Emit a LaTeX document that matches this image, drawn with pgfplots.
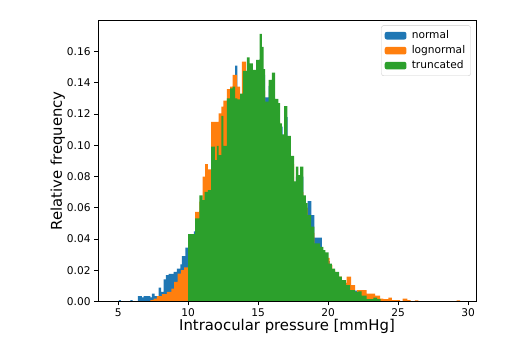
\documentclass[border=0pt]{standalone}
\usepackage{fontspec}
\setmainfont{DejaVu Sans}
\usepackage{pgfplots}
\pgfplotsset{compat=1.18}
\definecolor{tabblue}{HTML}{1F77B4}
\definecolor{taborange}{HTML}{FF7F0E}
\definecolor{tabgreen}{HTML}{2CA02C}
\definecolor{legframe}{HTML}{CCCCCC}

\begin{document}
\begin{tikzpicture}
\begin{axis}[
  width=356pt, height=265pt, scale only axis,
  xmin=3.55, xmax=30.57, ymin=0, ymax=0.18,
  xtick={5,10,15,20,25,30},
  ytick={0,0.02,0.04,0.06,0.08,0.1,0.12,0.14,0.16},
  scaled y ticks=false,
  yticklabel style={/pgf/number format/fixed, /pgf/number format/fixed zerofill,
                    /pgf/number format/precision=2},
  /pgf/number format/assume math mode=true,
  tick pos=left, tick align=outside, major tick length=3.5pt,
  tick style={black, line width=0.8pt},
  axis line style={line width=0.8pt},
  tick label style={font=\fontsize{10}{12}\selectfont},
  xlabel={Intraocular pressure [mmHg]}, ylabel={Relative frequency},
  label style={font=\fontsize{14}{17}\selectfont},
  xlabel style={at={(axis description cs:0.5,-0.062)}, anchor=north, inner sep=0pt},
  ylabel style={at={(axis description cs:-0.087,0.5)}, anchor=south, inner sep=0pt},
  axis on top,
  legend style={at={(0.986,0.982)}, anchor=north east, draw=legframe, rounded corners=2pt,
                fill=white, fill opacity=0.8, draw opacity=1, text opacity=1,
                font=\fontsize{10}{12}\selectfont, row sep=1pt, inner sep=3pt,
                /tikz/every odd column/.append style={column sep=3pt}},
  legend cell align=left,
  legend image code/.code={\fill[#1, fill opacity=1] (0pt,-3.6pt) rectangle (20.5pt,3.6pt);},
]
% normal
\addplot[const plot, fill=tabblue, draw=none] coordinates {
  (5.05,0.001) (5.19,0) (5.86,0.001) (6.02,0) (6.4,0.0036) (6.69,0.0027) (6.81,0.0036)
  (7.29,0.0027) (7.4,0.0052) (7.6,0.0036) (7.88,0.009) (8.07,0.0063) (8.24,0.0142)
  (8.4,0.017) (8.6,0.0177) (8.95,0.0191) (9.19,0.0212) (9.43,0.0238) (9.55,0.0292)
  (9.79,0.0346) (10.0,0.038) (10.2,0.040) (10.4,0.045) (10.6,0.050) (10.8,0.058)
  (11.0,0.062) (11.2,0.066) (11.4,0.070) (11.6,0.080) (11.8,0.085) (12.0,0.088)
  (12.2,0.092) (12.4,0.100) (12.6,0.095) (12.8,0.118) (13.0,0.128) (13.2,0.132)
  (13.36,0.151) (13.52,0.125) (13.7,0.128) (13.9,0.140) (14.1,0.145) (14.3,0.146)
  (14.5,0.144) (14.7,0.147) (14.9,0.150) (15.1,0.155) (15.3,0.145) (15.5,0.1307)
  (15.74,0.138) (15.95,0.135) (16.2,0.124) (16.4,0.110) (16.6,0.112) (16.75,0.104)
  (16.9,0.118) (17.1,0.100) (17.3,0.090) (17.5,0.075) (17.7,0.080) (17.9,0.078)
  (18.1,0.080) (18.23,0.066) (18.4,0.060) (18.54,0.0643) (18.8,0.0554) (19.02,0.041)
  (19.55,0.030) (19.75,0.027) (19.93,0.026) (20.12,0.020) (20.31,0.018) (20.5,0.015)
  (20.7,0.012) (20.9,0.011) (21.1,0.008) (21.3,0.007) (21.5,0.006) (21.7,0.0045)
  (21.93,0.0071) (22.05,0.003) (22.3,0.002) (22.5,0.0015) (22.7,0.001) (22.9,0.001)
} \closedcycle;
\addlegendentry{normal}
% lognormal
\addplot[const plot, fill=taborange, draw=none] coordinates {
  (7.29,0.001) (7.52,0.002) (7.76,0.0036) (8.12,0.0048) (8.48,0.0063) (8.79,0.0084)
  (9.0,0.0127) (9.24,0.018) (9.48,0.0202) (9.71,0.022) (10.0,0.040) (10.5,0.0575)
  (10.79,0.064) (11.02,0.080) (11.21,0.088) (11.4,0.0846) (11.64,0.115) (12.17,0.1205)
  (12.36,0.1247) (12.52,0.1286) (12.76,0.1359) (13.0,0.1375) (13.17,0.145) (13.5,0.1375)
  (13.71,0.128) (13.83,0.1535) (14.14,0.145) (14.4,0.140) (14.62,0.142) (14.86,0.140)
  (15.1,0.138) (15.38,0.135) (15.5,0.122) (15.74,0.125) (16.0,0.120) (16.21,0.115)
  (16.57,0.105) (16.85,0.100) (17.09,0.098) (17.33,0.088) (17.57,0.075) (17.8,0.074)
  (18.05,0.070) (18.23,0.060) (18.54,0.045) (18.78,0.044) (19.02,0.034) (19.54,0.029)
  (19.9,0.028) (20.1,0.0236) (20.31,0.0202) (20.5,0.017) (20.74,0.016) (20.98,0.012)
  (21.33,0.016) (21.64,0.0106) (21.93,0.0052) (22.05,0.0074) (22.76,0.0052)
  (23.36,0.0038) (23.71,0.002) (23.95,0.0016) (24.31,0.0026) (24.55,0.001) (25.14,0)
  (25.33,0.002) (25.67,0.001) (25.9,0) (26.2,0.0008) (26.45,0) (29.19,0.0008) (29.43,0.0008)
} \closedcycle;
\addlegendentry{lognormal}
% truncated
\addplot[const plot, fill=tabgreen, draw=none] coordinates {
  (10.0,0.0432) (10.5,0.0533) (10.79,0.068) (11.02,0.065) (11.17,0.0703) (11.4,0.0714)
  (11.64,0.0991) (11.9,0.0906) (12.05,0.0996) (12.17,0.0938) (12.36,0.1188) (12.52,0.0996)
  (12.76,0.130) (13.0,0.1365) (13.17,0.1375) (13.36,0.130) (13.52,0.1294) (13.71,0.133)
  (13.9,0.1477) (14.19,0.1563) (14.38,0.1525) (14.62,0.1482) (14.86,0.1546) (15.1,0.1713)
  (15.26,0.163) (15.38,0.1487) (15.5,0.1279) (15.74,0.1418) (15.98,0.1465) (16.21,0.1297)
  (16.45,0.127) (16.57,0.1141) (16.7,0.107) (16.85,0.125) (17.09,0.106) (17.33,0.0932)
  (17.57,0.077) (17.69,0.0863) (17.88,0.081) (17.99,0.0863) (18.23,0.068) (18.4,0.063)
  (18.54,0.0554) (18.78,0.048) (19.02,0.0372) (19.43,0.035) (19.66,0.033) (19.8,0.0315)
  (20.03,0.0244) (20.26,0.0212) (20.5,0.019) (20.79,0.016) (20.98,0.0137) (21.29,0.0106)
  (21.57,0.0074) (21.93,0.0063) (22.17,0.0065) (22.4,0.0038) (22.76,0.0016) (23.24,0.0025)
  (23.5,0.0016) (23.75,0.0016)
} \closedcycle;
\addlegendentry{truncated}
\end{axis}
\path ([shift={(-92.3pt,-38.2pt)}]current axis.south west)
  rectangle ([shift={(29.2pt,19.1pt)}]current axis.north east);
\end{tikzpicture}
\end{document}
